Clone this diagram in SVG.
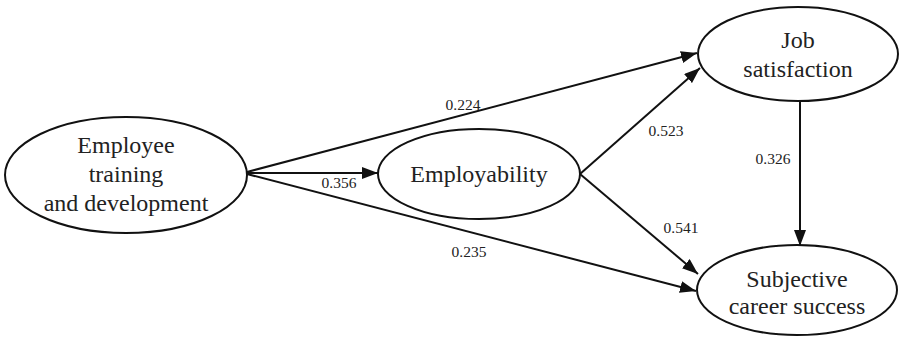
<svg xmlns="http://www.w3.org/2000/svg" width="899" height="337" viewBox="0 0 899 337">
<style>
.node{fill:#fff;stroke:#111;stroke-width:2}
.t{font-family:"Liberation Serif",serif;font-size:24px;fill:#222;text-anchor:middle}
.l{font-family:"Liberation Serif",serif;font-size:15.5px;fill:#222;text-anchor:middle}
.c{stroke:#111;stroke-width:2;fill:none;marker-end:url(#ah)}
</style>
<defs>
<marker id="ah" viewBox="0 0 16 12" refX="16" refY="6" markerWidth="16" markerHeight="12" markerUnits="userSpaceOnUse" orient="auto">
<path d="M0,0 L16,6 L0,12 Z" fill="#111"/>
</marker>
</defs>
<g id="connectors">
<line class="c" x1="247" y1="173" x2="378" y2="173"/>
<line class="c" x1="247" y1="172" x2="697" y2="53"/>
<line class="c" x1="247" y1="174" x2="696" y2="291"/>
<line class="c" x1="580" y1="174" x2="700" y2="68"/>
<line class="c" x1="580" y1="174" x2="698" y2="274"/>
<line class="c" x1="800" y1="101" x2="800" y2="246"/>
<text class="l" x="463" y="110">0.224</text>
<text class="l" x="339" y="188">0.356</text>
<text class="l" x="666" y="136">0.523</text>
<text class="l" x="773" y="164">0.326</text>
<text class="l" x="681" y="233">0.541</text>
<text class="l" x="469" y="257">0.235</text>
</g>
<g id="training">
<ellipse class="node" cx="126" cy="175" rx="121" ry="58"/>
<text class="t" x="126" y="153">Employee</text>
<text class="t" x="126" y="182">training</text>
<text class="t" x="126" y="211">and development</text>
</g>
<g id="employability">
<ellipse class="node" cx="479" cy="174" rx="101" ry="45"/>
<text class="t" x="479" y="182">Employability</text>
</g>
<g id="job">
<ellipse class="node" cx="798" cy="54" rx="100" ry="47"/>
<text class="t" x="798" y="48">Job</text>
<text class="t" x="798" y="77">satisfaction</text>
</g>
<g id="success">
<ellipse class="node" cx="797" cy="290" rx="100" ry="45"/>
<text class="t" x="797" y="287">Subjective</text>
<text class="t" x="797" y="314">career success</text>
</g>
</svg>
